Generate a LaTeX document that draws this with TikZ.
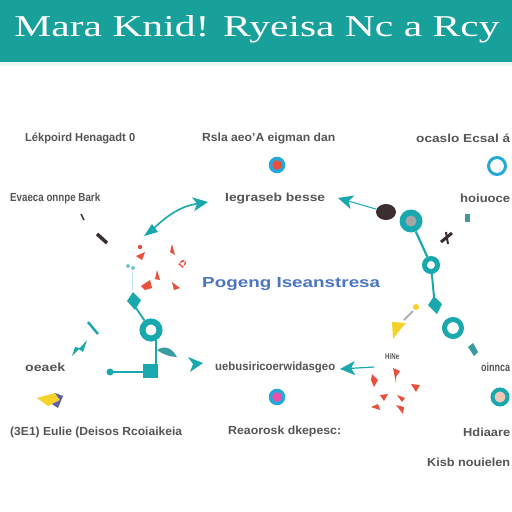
\documentclass[tikz,border=0pt]{standalone}
\usepackage{fontspec}
\setmainfont{Liberation Sans}
\newfontfamily\titlefont{Liberation Serif}
\usetikzlibrary{arrows.meta,shapes.geometric}
\definecolor{hdr}{HTML}{18A09A}
\definecolor{tl}{HTML}{19A8AE}
\definecolor{cy}{HTML}{26A9DA}
\definecolor{gt}{HTML}{555555}
\definecolor{bt}{HTML}{4A76C2}
\definecolor{rd}{HTML}{EB4E3A}
\definecolor{pk}{HTML}{EE4FA8}
\definecolor{yl}{HTML}{F5D22A}
\definecolor{pu}{HTML}{5A5FA8}
\definecolor{dk}{HTML}{3B2E30}
\definecolor{pe}{HTML}{F3C6B5}
\newcommand{\lbw}[2]{\resizebox{#1pt}{8.5pt}{\bfseries #2}}
\begin{document}
\begin{tikzpicture}[x=1pt,y=-1pt,
  lbl/.style={text=gt,inner sep=0pt,anchor=west},
  conn/.style={draw=tl,line width=1.6pt},
  head/.style={-{Stealth[length=15pt,width=14pt,inset=4pt]}},
  redmark/.style={fill=rd},
]
\useasboundingbox (0,0) rectangle (512,512);
\fill[white] (0,0) rectangle (512,512);
\fill[hdr] (0,0) rectangle (512,62);
\fill[hdr!10] (0,62) rectangle (512,66);
\node[text=white,inner sep=0pt] (title) at (257,29) {\resizebox{485pt}{21pt}{\titlefont Mara Knid! Ryeisa Nc a Rcy}};

% labels
\node[lbl] (l1) at (25,138) {\lbw{110}{Lékpoird Henagadt 0}};
\node[lbl] (l2) at (202,138) {\lbw{133}{Rsla aeo'A eigman dan}};
\node[lbl] (l3) at (416,138) {\lbw{94}{ocaslo Ecsal á}};
\node[lbl] (l4) at (10,198) {\lbw{90}{Evaeca onnpe Bark}};
\node[lbl] (l5) at (225,198) {\lbw{100}{Iegraseb besse}};
\node[lbl] (l6) at (460,198) {\lbw{50}{hoiuoce}};
\node[lbl,text=bt] (cen) at (202,284) {\resizebox{178pt}{10pt}{\bfseries Pogeng Iseanstresa}};
\node[lbl] (l7) at (25,367) {\lbw{40}{oeaek}};
\node[lbl] (l8) at (215,367) {\lbw{120}{uebusiricoerwidasgeo}};
\node[lbl] (l9) at (481,367) {\lbw{29}{oinnca}};
\node[lbl] (l10) at (10,432) {\lbw{172}{(3E1) Eulie (Deisos Rcoiaikeia}};
\node[lbl] (l11) at (228,431) {\lbw{113}{Reaorosk dkepesc:}};
\node[lbl] (l12) at (463,432) {\lbw{47}{Hdiaare}};
\node[lbl] (l13) at (427,462) {\lbw{83}{Kisb nouielen}};
\node[lbl] (l14) at (385,357) {\resizebox{14pt}{6pt}{\bfseries HiNe}};

% circles
\node[circle,draw=cy,line width=3.5pt,fill=rd,minimum size=13pt,inner sep=0pt] (n1) at (277,165) {};
\node[circle,draw=cy,line width=3pt,fill=white,minimum size=17pt,inner sep=0pt] (n2) at (497,166) {};
\node[circle,fill=tl,minimum size=23pt,inner sep=0pt] (n3) at (411,221) {};
\node[circle,fill=gray!70,minimum size=11pt,inner sep=0pt] (n3c) at (411,221) {};
\node[circle,draw=tl,line width=5pt,fill=white,minimum size=13pt,inner sep=0pt] (n4) at (431,265) {};
\node[circle,draw=tl,line width=6pt,fill=white,minimum size=17pt,inner sep=0pt] (n5) at (151,330) {};
\node[circle,draw=tl,line width=5pt,fill=white,minimum size=17pt,inner sep=0pt] (n6) at (453,328) {};
\node[circle,draw=cy,line width=3.5pt,fill=pk,minimum size=13pt,inner sep=0pt] (n7) at (277,397) {};
\node[circle,draw=tl,line width=4pt,fill=pe,minimum size=15pt,inner sep=0pt] (n8) at (500,397) {};
\node[ellipse,fill=dk,minimum width=20pt,minimum height=16pt,inner sep=0pt] (dot) at (386,212) {};

% arrow 1 (upper left)
\coordinate (a1s) at (150,232);
\coordinate (a1e) at (208,202);
\fill[tl] (a1s) ++(-6,4) -- ++(8,-12) -- ++(6,8) -- cycle;
\draw[conn,head] (a1s) .. controls (168,214) and (182,206) .. (a1e);

% arrow 2 (from dark dot)
\coordinate (a2e) at (338,198);
\draw[conn,line width=1pt,head] (dot) -- (a2e);

% right chain
\draw[conn,line width=2.2pt] (n3) -- (n4);
\coordinate (d1) at (434,297);
\draw[conn,line width=2pt] (n4) -- (d1);
\fill[tl] (434,296) -- (442,304) -- (437,314) -- (428,305) -- cycle;
\fill[tl!70!gray] (473,343) -- (478,352) -- (474,356) -- (468,347) -- cycle;
\fill[tl!60!gray] (465,214) rectangle (470,222);
% black marks
\draw[dk,line width=3pt] (441,242) -- (452,233);
\draw[dk,line width=2pt] (446,232) -- (448,244);
\draw[dk,line width=3.5pt] (97,234) -- (107,243);
\draw[dk,line width=1.5pt] (81,214) -- (84,220);

% yellow shape
\draw[gray!60,line width=2pt] (404,320) -- (413,311);
\fill[yl] (416,307) circle (3pt);
\fill[yl] (392,322) -- (406,323) -- (400,330) -- (393,339) -- cycle;

% arrow 3 (lower right, pointing left)
\coordinate (a3s) at (374,367);
\coordinate (a3e) at (340,369);
\draw[conn,line width=1.2pt,head] (a3s) -- (a3e);

% left chain
\fill[tl!60] (128,266) circle (2pt) (133,268) circle (2pt);
\draw[tl!30,line width=1pt] (132,272) -- (132,290);
\fill[tl] (133,292) -- (141,300) -- (135,310) -- (127,301) -- cycle;
\draw[conn,line width=1.8pt] (136,308) -- (n5);
\coordinate (sq) at (151,371);
\draw[conn,line width=1.8pt] (n5.south east) ++(-3,0) |- (sq);
\fill[tl] (143,364) rectangle (158,378);
\coordinate (ht) at (110,372);
\draw[conn,line width=1.5pt] (143,372) -- (ht);
\fill[tl] (ht) circle (3.5pt);
\fill[tl!70!gray] (157,350) .. controls (165,345) and (172,348) .. (177,357) .. controls (170,357) and (162,354) .. cycle;
\fill[tl] (203,363) -- (188,357) -- (193,364) -- (190,372) -- cycle;
\draw[tl,line width=2.5pt] (88,322) -- (98,334);
\fill[tl] (87,340) -- (83,352) -- (79,349) -- (72,356) -- (75,347) -- (80,348) -- cycle;

% red marks left
\fill[redmark] (136,256) -- (145,252) -- (142,260) -- cycle;
\fill[redmark] (140,247) circle (2.2pt);
\fill[redmark] (172,244) -- (175,255) -- (170,252) -- cycle;
\fill[redmark] (183,263) circle (3pt) (178,264) -- (185,261) -- (183,268) -- cycle;
\fill[redmark] (157,270) -- (160,280) -- (155,279) -- cycle;
\fill[redmark] (141,286) -- (150,280) -- (152,288) -- (145,290) -- cycle;
\fill[redmark] (172,282) -- (180,288) -- (174,290) -- cycle;
% red marks right
\fill[redmark] (372,374) -- (378,380) -- (374,387) -- (371,380) -- cycle;
\fill[redmark] (393,368) -- (400,371) -- (396,377) -- (396,383) -- cycle;
\fill[redmark] (411,384) -- (420,385) -- (416,392) -- cycle;
\fill[redmark] (380,395) -- (388,394) -- (384,401) -- cycle;
\fill[redmark] (397,395) -- (405,398) -- (402,402) -- cycle;
\fill[redmark] (371,407) -- (378,404) -- (380,410) -- cycle;
\fill[redmark] (396,405) -- (404,407) -- (403,414) -- cycle;

% yellow/purple bottom-left
\fill[yl] (37,398) -- (55,393) -- (60,400) -- (48,406) -- cycle;
\fill[pu] (55,393) -- (63,396) -- (58,408) -- (52,404) -- (60,400) -- cycle;
\end{tikzpicture}
\end{document}
